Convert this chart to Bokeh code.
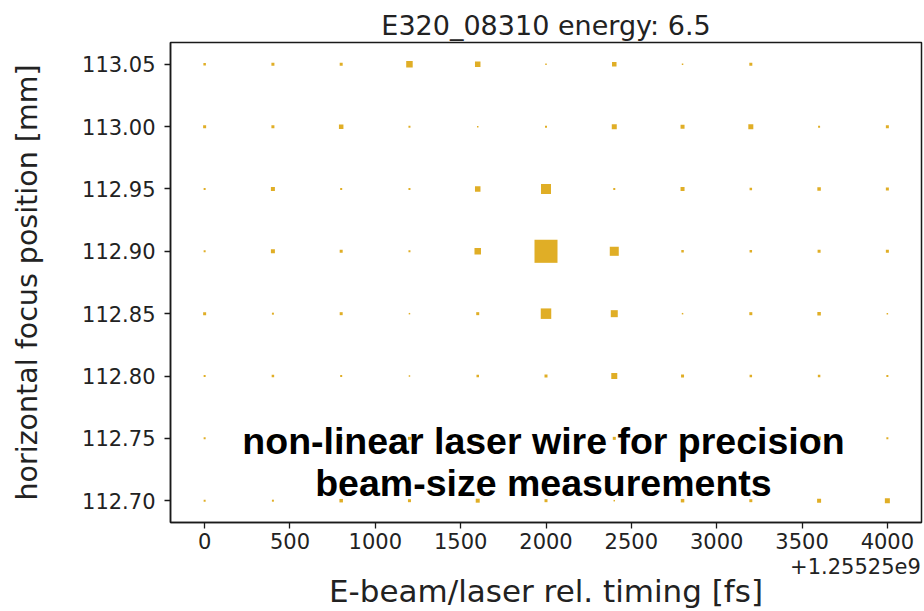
from bokeh.plotting import figure
from bokeh.models import FixedTicker, NumeralTickFormatter, Label, Range1d, LinearAxis
from bokeh.embed import file_html
from bokeh.resources import INLINE

# ---- data ----
x_timing = [0, 400, 800, 1200, 1600, 2000, 2400, 2800, 3200, 3600, 4000]
y_focus = [113.05, 113.00, 112.95, 112.90, 112.85, 112.80, 112.75, 112.70]
# signal per grid cell (rows follow y_focus, columns follow x_timing)
signal = [
    [2.5, 3.0, 3.0, 6.5, 5.5, 1.5, 4.5, 1.5, 3.0, 0.0, 0.0],
    [3.0, 3.0, 4.5, 2.0, 1.5, 2.0, 5.0, 4.0, 5.0, 2.0, 3.0],
    [2.0, 4.0, 2.0, 2.0, 5.5, 10.0, 2.0, 4.0, 2.5, 3.5, 3.0],
    [2.0, 4.0, 3.0, 2.0, 6.5, 23.0, 9.0, 2.5, 2.5, 3.0, 3.0],
    [3.0, 2.0, 3.0, 1.5, 3.0, 10.5, 7.0, 1.5, 3.0, 3.5, 1.5],
    [2.0, 2.5, 2.0, 1.5, 2.5, 3.0, 6.0, 3.0, 2.5, 2.5, 2.0],
    [2.0, 3.0, 2.5, 3.0, 2.5, 2.5, 3.0, 2.5, 2.5, 3.5, 2.0],
    [2.0, 2.0, 3.5, 3.0, 4.0, 3.0, 1.5, 3.5, 3.0, 4.0, 5.0],
]
x_ticks = [0, 500, 1000, 1500, 2000, 2500, 3000, 3500, 4000]
y_ticks = [112.70, 112.75, 112.80, 112.85, 112.90, 112.95, 113.00, 113.05]
x_offset_text = "+1.25525e9"
title_text = "E320_08310 energy: 6.5"
x_label = "E-beam/laser rel. timing [fs]"
y_label = "horizontal focus position [mm]"
caption_lines = ["non-linear laser wire for precision", "beam-size measurements"]

# flatten grid
xs, ys, ss = [], [], []
for r, yv in enumerate(y_focus):
    for c, xv in enumerate(x_timing):
        if signal[r][c] > 0:
            xs.append(xv)
            ys.append(yv)
            ss.append(signal[r][c])

xpad = 0.05 * (max(x_timing) - min(x_timing))
ypad = 0.05 * (max(y_focus) - min(y_focus))
x_end = max(x_timing) + xpad

p = figure(width=924, height=611, output_backend="svg", toolbar_location=None,
           x_range=Range1d(min(x_timing) - xpad, x_end),
           y_range=Range1d(min(y_focus) - ypad, max(y_focus) + ypad),
           min_border_left=170, min_border_right=3, min_border_top=42, min_border_bottom=89)
p.background_fill_color = "white"
p.border_fill_color = "white"
p.outline_line_color = "#1a1a1a"
p.outline_line_width = 1.5
p.grid.visible = False

p.scatter(xs, ys, size=ss, marker="square", fill_color="#E0AE26", line_color=None)

p.title.text = title_text
p.title.align = "center"
p.title.text_font = "DejaVu Sans"
p.title.text_font_size = "27px"
p.title.text_font_style = "normal"
p.title.text_color = "#222222"
p.title.standoff = 4

# secondary (label-only) axis carrying the offset text and the axis title
offset_pos = x_end - 387
ax2 = LinearAxis(ticker=FixedTicker(ticks=[offset_pos]),
                 major_label_overrides={offset_pos: x_offset_text})
p.add_layout(ax2, "below")

for ax in (p.xaxis[0], p.yaxis[0], ax2):
    ax.axis_line_color = "#1a1a1a"
    ax.axis_line_width = 1.5
    ax.major_tick_line_color = "#1a1a1a"
    ax.major_tick_line_width = 1.3
    ax.major_tick_out = 6
    ax.major_tick_in = 0
    ax.minor_tick_line_color = None
    ax.major_label_text_font = "DejaVu Sans"
    ax.major_label_text_font_size = "21px"
    ax.major_label_text_color = "#222222"
    ax.axis_label_text_font = "DejaVu Sans"
    ax.axis_label_text_font_size = "31px"
    ax.axis_label_text_font_style = "normal"
    ax.axis_label_text_color = "#222222"

p.xaxis[0].ticker = FixedTicker(ticks=x_ticks)
p.xaxis[0].major_label_standoff = 4

ax2.axis_line_color = None
ax2.major_tick_line_color = None
ax2.major_tick_out = 0
ax2.major_label_standoff = 6
ax2.axis_label = x_label
ax2.axis_label_standoff = -4

p.yaxis[0].ticker = FixedTicker(ticks=y_ticks)
p.yaxis[0].formatter = NumeralTickFormatter(format="0.00")
p.yaxis[0].major_label_standoff = 9
p.yaxis[0].axis_label = y_label
p.yaxis[0].axis_label_text_font_size = "28.5px"
p.yaxis[0].axis_label_standoff = 35

cx = (min(x_timing) + max(x_timing)) / 2 - 15
p.add_layout(Label(x=cx, y=112.748, text=caption_lines[0], text_align="center",
                   text_baseline="alphabetic", text_font="Liberation Sans",
                   text_font_style="bold", text_font_size="37.5px", text_color="black"))
p.add_layout(Label(x=cx, y=112.7145, text=caption_lines[1], text_align="center",
                   text_baseline="alphabetic", text_font="Liberation Sans",
                   text_font_style="bold", text_font_size="37.5px", text_color="black"))

open("out.html", "w").write(file_html(p, INLINE))
